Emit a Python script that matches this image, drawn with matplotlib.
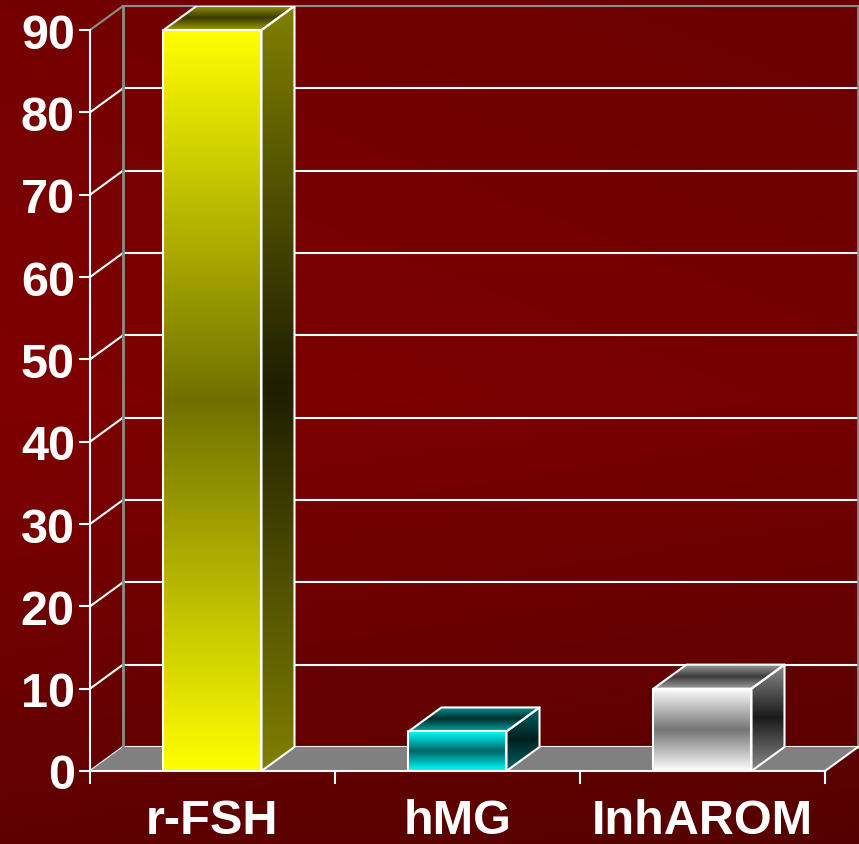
import numpy as np
import matplotlib
matplotlib.use("Agg")
import matplotlib.pyplot as plt
from matplotlib.patches import Polygon
from matplotlib.colors import LinearSegmentedColormap

# datos del grafico
categorias = ["r-FSH", "hMG", "InhAROM"]
valores = [90, 4.8, 10]
ticks_y = [0, 10, 20, 30, 40, 50, 60, 70, 80, 90]

# colores por barra: (frente claro, frente oscuro, lado claro, lado oscuro, tapa clara, tapa oscura)
colores_barras = [
    ("#ffff00", "#707000", "#808000", "#1e1e00", "#9a9a00", "#3a3a00"),
    ("#00ffff", "#006464", "#006868", "#001e1e", "#00a0a0", "#002e2e"),
    ("#ffffff", "#747474", "#8c8c8c", "#1a1a1a", "#a0a0a0", "#3c3c3c"),
]

# profundidad 3D en unidades de datos
DX = 0.1347
DY = 2.92
ANCHO = 0.40
YMAX = 90

fig = plt.figure(figsize=(8.59, 8.45), dpi=100)

# fondo degradado rojo oscuro
fondo = fig.add_axes([0, 0, 1, 1])
xs = np.linspace(0, 1, 200)
ys = np.linspace(0, 1, 200)
X, Y = np.meshgrid(xs, ys)
ypx = Y * 845
c = np.where(ypx < 400, 12 * (1 - ypx / 400), 33 * (ypx - 400) / 445)
R = (128 - 10 * X - c) / 255.0
img = np.dstack([R, np.zeros_like(R), np.zeros_like(R)])
fondo.imshow(img, extent=[0, 1, 1, 0], aspect="auto")
fondo.set_xlim(0, 1)
fondo.set_ylim(1, 0)
fondo.axis("off")

ax = fig.add_axes([90 / 859, (845 - 772) / 845, (858 - 90) / 859, (772 - 7) / 845])
ax.set_xlim(0, 3 + DX)
ax.set_ylim(0, YMAX + DY)
ax.axis("off")
ax.patch.set_alpha(0)

n = len(categorias)
gris = "#8c8c8c"

# pared trasera, pared lateral y etiquetas del eje y
for v in ticks_y:
    col = gris if v == YMAX else "white"
    ax.plot([DX, n + DX], [v + DY, v + DY], color=col, lw=1.5, zorder=2, clip_on=False)
    ax.plot([0, DX], [v, v + DY], color=col, lw=1.5, zorder=2, clip_on=False)
    ax.plot([-0.04, 0], [v, v], color="white", lw=1.5, zorder=2, clip_on=False)
    ax.text(-0.062, v, str(v), color="white", fontsize=35, fontweight="bold",
            family="Liberation Sans", ha="right", va="center_baseline")

ax.plot([DX, DX], [DY, YMAX + DY], color=gris, lw=2, zorder=2, clip_on=False)
ax.plot([n + DX, n + DX], [DY, YMAX + DY], color=gris, lw=2, zorder=2, clip_on=False)
ax.plot([0, 0], [0, YMAX], color="white", lw=1.5, zorder=2, clip_on=False)

# piso
piso = Polygon([[0, 0], [n, 0], [n + DX, DY], [DX, DY]], closed=True,
               facecolor="#808080", edgecolor="none", zorder=3)
ax.add_patch(piso)
ax.plot([0, n], [0, 0], color="white", lw=1.5, zorder=3, clip_on=False)
ax.plot([n, n + DX], [0, DY], color="white", lw=1.5, zorder=3, clip_on=False)

# marcas del eje x
for i in range(n + 1):
    ax.plot([i, i], [0, -1.5], color="white", lw=1.5, zorder=3, clip_on=False)


def cara_degradada(vertices, y0, y1, claro, oscuro, z):
    """Cara de la barra con degradado vertical claro-oscuro-claro"""
    cmap = LinearSegmentedColormap.from_list("g", [claro, oscuro, claro])
    xv = [p[0] for p in vertices]
    grad = np.linspace(0, 1, 256).reshape(-1, 1)
    im = ax.imshow(grad, extent=[min(xv), max(xv), y0, y1], origin="lower",
                   aspect="auto", cmap=cmap, vmin=0, vmax=1, zorder=z,
                   interpolation="bilinear")
    poli = Polygon(vertices, closed=True, facecolor="none", edgecolor="white",
                   lw=1.5, zorder=z + 0.1, joinstyle="round")
    ax.add_patch(poli)
    im.set_clip_path(poli)


# barras
for i, (nombre, v) in enumerate(zip(categorias, valores)):
    fc, fo, lc, lo, tc, to = colores_barras[i]
    x0 = i + 0.5 - ANCHO / 2
    x1 = i + 0.5 + ANCHO / 2
    # lado derecho
    cara_degradada([[x1, 0], [x1 + DX, DY], [x1 + DX, v + DY], [x1, v]], 0, v + DY, lc, lo, 4)
    # tapa
    cara_degradada([[x0, v], [x1, v], [x1 + DX, v + DY], [x0 + DX, v + DY]], v, v + DY, tc, to, 4)
    # frente
    cara_degradada([[x0, 0], [x1, 0], [x1, v], [x0, v]], 0, v, fc, fo, 5)
    ax.text(i + 0.5, -7.5, nombre, color="white", fontsize=35, fontweight="bold",
            family="Liberation Sans", ha="center", va="baseline")

ax.set_xlim(0, 3 + DX)
ax.set_ylim(0, YMAX + DY)

fig.savefig("out.png", dpi=100)
